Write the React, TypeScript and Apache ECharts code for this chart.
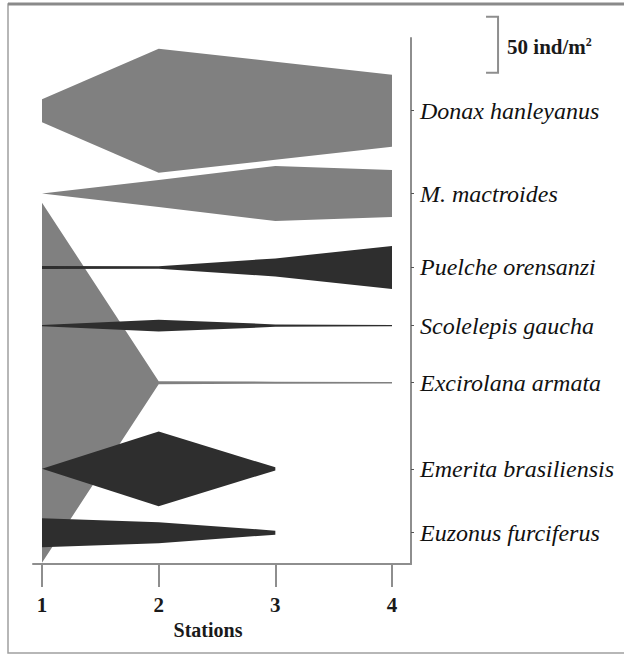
import React, { useEffect, useRef } from "react";
import * as echarts from "echarts";

// Stations along the beach transect
const stations = [1, 2, 3, 4];
const stationLabels = ["1", "2", "3", "4"];

// Species (row labels) and the baseline of each kite on the y scale (ind/m² units)
const species = [
  "Donax hanleyanus",
  "M. mactroides",
  "Puelche orensanzi",
  "Scolelepis gaucha",
  "Excirolana armata",
  "Emerita brasiliensis",
  "Euzonus furciferus",
];
const baselines = [405, 331, 265, 213, 162, 85, 28];

// Densities (ind/m²) per station; null = not present
const donax = [20.6, 110.8, 87.6, 64.3];
const mactroides = [0, 24.1, 49.2, 42];
const puelche = [2.7, 2.2, 16.1, 38.4];
const scolelepis = [1, 10.7, 2.2, 1];
const excirolana = [321.7, 2.7, 1.8, 1.3];
const emerita = [0, 67, 2.7, null];
const euzonus = [25.9, 18.8, 3.6, null];

const densities = [donax, mactroides, puelche, scolelepis, excirolana, emerita, euzonus];

// Scale bar
const scaleBarValue = 50;
const scaleBarTop = 489;
const scaleBarX = 4.909;
const scaleBarTickX = 4.806;

const LIGHT = "#808080";
const DARK = "#2e2e2e";
const fillOf = [LIGHT, LIGHT, DARK, DARK, LIGHT, DARK, DARK];
const drawOrder = [4, 0, 1, 2, 3, 5, 6];
const AXIS = "#8e8e8e";

export default function App() {
  const ref = useRef<HTMLDivElement>(null);
  useEffect(() => {
    if (!ref.current) return;
    const chart = echarts.init(ref.current, null, { renderer: "svg" });
    const option: any = {
      animation: false,
      backgroundColor: "#ffffff",
      grid: { left: 33, right: 213, top: 38, bottom: 91 },
      xAxis: {
        type: "value",
        min: 1 - 9 / (350 / 3),
        max: 4 + 19 / (350 / 3),
        name: "Stations",
        nameLocation: "middle",
        nameGap: 46,
        nameTextStyle: {
          fontFamily: "Liberation Serif",
          fontWeight: "bold",
          fontSize: 20,
          color: "#1a1a1a",
          padding: [0, 28, 0, 0],
        },
        axisLine: { show: true, lineStyle: { color: AXIS, width: 2 } },
        axisTick: {
          show: true,
          customValues: stations,
          length: 23,
          lineStyle: { color: AXIS, width: 2 },
        },
        axisLabel: {
          customValues: stations,
          formatter: (v: number) => stationLabels[stations.indexOf(v)] ?? "",
          margin: 30,
          fontFamily: "Liberation Serif",
          fontWeight: "bold",
          fontSize: 21,
          color: "#1a1a1a",
        },
        splitLine: { show: false },
      },
      yAxis: {
        type: "value",
        position: "right",
        min: 0,
        max: 470,
        axisLine: { show: true, lineStyle: { color: AXIS, width: 2 } },
        axisTick: {
          show: true,
          customValues: baselines,
          length: 3,
          lineStyle: { color: "#555", width: 1 },
        },
        axisLabel: {
          customValues: baselines,
          formatter: (v: number) => species[baselines.indexOf(v)] ?? "",
          margin: 9,
          fontFamily: "Liberation Serif",
          fontStyle: "italic",
          fontSize: 24,
          color: "#111",
        },
        splitLine: { show: false },
      },
      graphic: [
        {
          type: "rect",
          shape: { x: 8, y: 4, width: 640, height: 649 },
          style: { fill: "none", stroke: "#a0a0a0", lineWidth: 1.5 },
          silent: true,
        },
        {
          type: "line",
          shape: { x1: 8, y1: 4, x2: 624, y2: 4 },
          style: { stroke: "#8a8a8a", lineWidth: 3 },
          silent: true,
        },
      ],
      series: [
        {
          type: "custom",
          clip: false,
          data: drawOrder.map((i) => [i]),
          renderItem: (params: any, api: any) => {
            const idx = api.value(0);
            const vals = densities[idx];
            const base = baselines[idx];
            const top: number[][] = [];
            const bot: number[][] = [];
            stations.forEach((s, j) => {
              const v = vals[j];
              if (v === null || v === undefined) return;
              top.push(api.coord([s, base + v / 2]));
              bot.push(api.coord([s, base - v / 2]));
            });
            return {
              type: "polygon",
              shape: { points: top.concat(bot.reverse()) },
              style: { fill: fillOf[idx], stroke: null },
            };
          },
        },
        {
          type: "custom",
          clip: false,
          data: [[scaleBarX, scaleBarTop]],
          renderItem: (params: any, api: any) => {
            const p1 = api.coord([scaleBarTickX, scaleBarTop]);
            const p2 = api.coord([scaleBarX, scaleBarTop]);
            const p3 = api.coord([scaleBarX, scaleBarTop - scaleBarValue]);
            const p4 = api.coord([scaleBarTickX, scaleBarTop - scaleBarValue]);
            return {
              type: "group",
              children: [
                {
                  type: "polyline",
                  shape: { points: [p1, p2, p3, p4] },
                  style: { stroke: AXIS, lineWidth: 2, fill: "none" },
                },
                {
                  type: "text",
                  style: {
                    text: scaleBarValue + " ind/m{sup|2}",
                    x: p2[0] + 9,
                    y: (p2[1] + p3[1]) / 2 + 2,
                    verticalAlign: "middle",
                    fontFamily: "Liberation Serif",
                    fontWeight: "bold",
                    fontSize: 21,
                    fill: "#1a1a1a",
                    rich: {
                      sup: {
                        fontFamily: "Liberation Serif",
                        fontWeight: "bold",
                        fontSize: 12,
                        verticalAlign: "top",
                        padding: [0, 0, 9, 0],
                        fill: "#1a1a1a",
                      },
                    },
                  },
                },
              ],
            };
          },
        },
      ],
    };
    chart.setOption(option);
    return () => chart.dispose();
  }, []);
  return (
    <div
      ref={ref}
      style={{ position: "absolute", left: 0, top: 0, width: 624, height: 655 }}
    />
  );
}
